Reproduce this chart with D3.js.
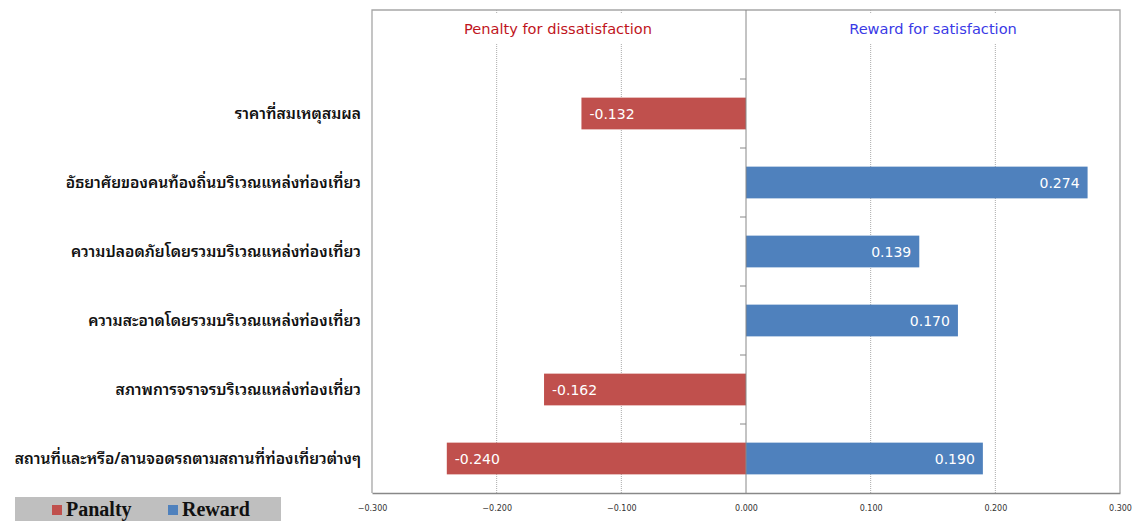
<!DOCTYPE html>
<html>
<head>
<meta charset="utf-8">
<script src="https://cdn.jsdelivr.net/npm/d3@7"></script>
<style>
  body { margin: 0; background: #fff; }
  svg { display: block; }
</style>
</head>
<body>
<div id="chart"></div>
<script>
// chart data
const categories = [
  "ราคาที่สมเหตุสมผล",
  "อัธยาศัยของคนท้องถิ่นบริเวณแหล่งท่องเที่ยว",
  "ความปลอดภัยโดยรวมบริเวณแหล่งท่องเที่ยว",
  "ความสะอาดโดยรวมบริเวณแหล่งท่องเที่ยว",
  "สภาพการจราจรบริเวณแหล่งท่องเที่ยว",
  "สถานที่และหรือ/ลานจอดรถตามสถานที่ท่องเที่ยวต่างๆ"
];
const penalty = [-0.132, null, null, null, -0.162, -0.240];
const reward = [null, 0.274, 0.139, 0.170, null, 0.190];
const xTicks = [-0.3, -0.2, -0.1, 0, 0.1, 0.2, 0.3];
const legendItems = ["Panalty", "Reward"];

const W = 1137, H = 521;
const plotL = 372, plotR = 1120, plotT = 10, plotB = 493;

const svg = d3.select("#chart").append("svg")
  .attr("width", W).attr("height", H);

const x = d3.scaleLinear().domain([-0.3, 0.3]).range([plotL, plotR]);
const y = d3.scaleBand().domain(categories).range([79, plotB]).paddingInner(0.54).paddingOuter(0.27);
const band = d3.scaleBand().domain(categories).range([79, plotB]);

// gridlines (dotted)
svg.selectAll(".grid").data(xTicks.filter(d => d !== 0 && Math.abs(d) < 0.3))
  .enter().append("line")
  .attr("x1", d => x(d)).attr("x2", d => x(d))
  .attr("y1", plotT).attr("y2", plotB)
  .attr("stroke", "#aaa").attr("stroke-width", 1)
  .attr("stroke-dasharray", "1,1");

// white boxes behind the titles
svg.append("rect").attr("x", x(-0.3) + 1).attr("y", plotT + 3)
  .attr("width", x(0) - x(-0.3) - 2).attr("height", 30).attr("fill", "#fff");
svg.append("rect").attr("x", x(0) + 1).attr("y", plotT + 3)
  .attr("width", x(0.3) - x(0) - 2).attr("height", 30).attr("fill", "#fff");

// plot border (top, left, right)
svg.append("path")
  .attr("d", `M${plotL},${plotB}V${plotT}H${plotR}V${plotB}`)
  .attr("fill", "none").attr("stroke", "#a6a6a6").attr("stroke-width", 1.3);

// titles
svg.append("text").attr("x", (x(-0.3) + x(0)) / 2 - 1).attr("y", 34)
  .attr("text-anchor", "middle").attr("fill", "#c0141c")
  .style("font-family", "DejaVu Sans, sans-serif").style("font-size", "14.6px")
  .text("Penalty for dissatisfaction");
svg.append("text").attr("x", (x(0) + x(0.3)) / 2 + 0).attr("y", 34)
  .attr("text-anchor", "middle").attr("fill", "#3a3ae6")
  .style("font-family", "DejaVu Sans, sans-serif").style("font-size", "14.6px")
  .text("Reward for satisfaction");

// bars
const pData = categories.map((c, i) => ({c, v: penalty[i]})).filter(d => d.v != null);
const rData = categories.map((c, i) => ({c, v: reward[i]})).filter(d => d.v != null);

svg.selectAll(".pbar").data(pData).enter().append("rect")
  .attr("x", d => x(d.v)).attr("y", d => y(d.c))
  .attr("width", d => x(0) - x(d.v)).attr("height", y.bandwidth())
  .attr("fill", "#c0504d");
svg.selectAll(".rbar").data(rData).enter().append("rect")
  .attr("x", x(0)).attr("y", d => y(d.c))
  .attr("width", d => x(d.v) - x(0)).attr("height", y.bandwidth())
  .attr("fill", "#4f81bd");

// bar labels
svg.selectAll(".plab").data(pData).enter().append("text")
  .attr("x", d => x(d.v) + 8).attr("y", d => y(d.c) + y.bandwidth() / 2 + 5)
  .attr("fill", "#fff").style("font-family", "DejaVu Sans, sans-serif").style("font-size", "14px")
  .text(d => d.v.toFixed(3));
svg.selectAll(".rlab").data(rData).enter().append("text")
  .attr("x", d => x(d.v) - 8).attr("y", d => y(d.c) + y.bandwidth() / 2 + 5)
  .attr("text-anchor", "end")
  .attr("fill", "#fff").style("font-family", "DejaVu Sans, sans-serif").style("font-size", "14px")
  .text(d => d.v.toFixed(3));

// zero line with category ticks
svg.append("line").attr("x1", x(0)).attr("x2", x(0)).attr("y1", plotT).attr("y2", plotB)
  .attr("stroke", "#888").attr("stroke-width", 1);
svg.selectAll(".ctick").data(categories).enter().append("line")
  .attr("x1", x(0) - 6).attr("x2", x(0))
  .attr("y1", d => band(d)).attr("y2", d => band(d))
  .attr("stroke", "#888");

// category labels
svg.selectAll(".clab").data(categories).enter().append("text")
  .attr("x", 361).attr("y", d => y(d) + y.bandwidth() / 2 + 5)
  .attr("text-anchor", "end").attr("fill", "#111")
  .style("font-family", "Noto Sans Thai Looped, Noto Sans Thai, Noto Sans, sans-serif").style("font-size", "15.6px")
  .style("font-weight", "600")
  .text(d => d);

// x axis
const xAxis = svg.append("g").attr("transform", `translate(0,${plotB})`)
  .call(d3.axisBottom(x).tickValues(xTicks).tickFormat(d3.format(".3f")).tickSize(0).tickPadding(12));
xAxis.select(".domain").attr("stroke", "#888").attr("stroke-width", 1.3);
xAxis.selectAll("text").attr("fill", "#333")
  .style("font-family", "DejaVu Sans, sans-serif").style("font-size", "8px");

// legend
const lg = svg.append("g");
lg.append("rect").attr("x", 15).attr("y", 497).attr("width", 266).attr("height", 24).attr("fill", "#bfbfbf");
const legColors = ["#c0504d", "#4f81bd"];
const legX = [52, 168];
legendItems.forEach((t, i) => {
  lg.append("rect").attr("x", legX[i]).attr("y", 505).attr("width", 10).attr("height", 10).attr("fill", legColors[i]);
  lg.append("text").attr("x", legX[i] + 14).attr("y", 516)
    .style("font-family", "Liberation Serif, serif").style("font-size", "20px").style("font-weight", "bold")
    .attr("fill", "#111").text(t);
});
</script>
</body>
</html>
